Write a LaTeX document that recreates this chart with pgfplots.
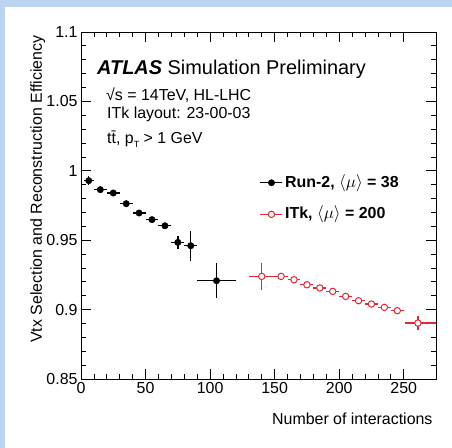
\documentclass[border=0pt]{standalone}
\usepackage{pgfplots}
\pgfplotsset{compat=1.18}
\usepackage{fontspec}
\setmainfont{Liberation Sans}
\definecolor{framebg}{RGB}{189,212,240}
\definecolor{rootred}{RGB}{228,38,52}

\begin{document}
\begin{tikzpicture}[x=1bp,y=1bp]
% light blue frame round the figure
\fill[framebg] (0,0) rectangle (452,448);
\fill[white] (5,0) rectangle (452,441);

\begin{axis}[
    at={(81bp,69bp)}, anchor=south west,
    width=355bp, height=347bp, scale only axis,
    xmin=0, xmax=275,
    ymin=0.85, ymax=1.1,
    xtick={0,50,100,150,200,250},
    ytick={0.85,0.9,0.95,1,1.05,1.1},
    minor x tick num=4,
    minor y tick num=4,
    tick align=inside,
    major tick length=10bp,
    minor tick length=5bp,
    axis line style={line width=0.8bp},
    every tick/.style={line width=0.8bp, black},
    /pgf/number format/assume math mode=true,
    ticklabel style={font=\fontsize{16}{19}\selectfont},
    xlabel={Number of interactions},
    xlabel style={at={(axis description cs:1,0)}, anchor=base east,
        yshift=-45.7bp, font=\fontsize{16}{19}\selectfont},
    ylabel={Vtx Selection and Reconstruction Efficiency},
    ylabel style={at={(axis description cs:-0.11,1)}, anchor=base east,
        font=\fontsize{16}{19}\selectfont},
    legend cell align=left,
    legend style={at={(axis cs:138.5,0.980)}, anchor=west,
        draw=none, fill=none, inner sep=0pt, outer sep=0pt,
        font=\bfseries\fontsize{16}{19}\selectfont,
        row sep=16.6bp, column sep=2bp,
        nodes={inner sep=0pt, text height=12bp, text depth=3bp}},
]

% Run-2, <mu> = 38
\addplot[black, only marks, mark=*, mark size=3.2bp,
    mark options={line width=0.5bp},
    error bars/.cd, x dir=both, x explicit, y dir=both, y explicit,
    error mark=none, error bar style={line width=1.4bp, black},
    /pgfplots/legend image code/.code={
        \draw[black, line width=1.4bp] (0bp,0bp) -- (22bp,0bp);
        \fill[black] (11bp,0bp) circle (3.2bp);}]
coordinates {
    (6,0.9929)   +- (4,0.003)
    (15,0.9864)  +- (5,0.001)
    (25,0.9840)  +- (5,0.001)
    (35,0.9763)  +- (5,0.0015)
    (45,0.9696)  +- (5,0.0015)
    (55,0.9648)  +- (5,0.0015)
    (65,0.9604)  +- (5,0.0015)
    (75,0.9484)  +- (5,0.0046)
    (85,0.9460)  +- (5,0.0108)
    (105,0.9208) +- (15,0.0126)
};
\addlegendentry{Run-2, $\langle\mu\rangle$ = 38}

% ITk, <mu> = 200
\addplot[rootred, only marks, mark=*, mark size=3.2bp,
    mark options={fill=white, draw=rootred, line width=1bp},
    error bars/.cd, x dir=both, x explicit, y dir=both, y explicit,
    error mark=none, error bar style={line width=1.2bp, rootred},
    /pgfplots/legend image code/.code={
        \draw[rootred, line width=1.2bp] (0bp,0bp) -- (22bp,0bp);
        \filldraw[draw=rootred, fill=white, line width=1bp] (11bp,0bp) circle (3.2bp);}]
coordinates {
    (140,0.9239) +- (10,0.0096)
    (155,0.9239) +- (5,0.0012)
    (165,0.9215) +- (5,0.0012)
    (175,0.9179) +- (5,0.001)
    (185,0.9156) +- (5,0.001)
    (195,0.9131) +- (5,0.001)
    (205,0.9095) +- (5,0.001)
    (215,0.9064) +- (5,0.001)
    (225,0.9040) +- (5,0.001)
    (235,0.9016) +- (5,0.001)
    (245,0.8992) +- (5,0.001)
    (261,0.8903) += (16,0.0048) -= (10,0.0048)
};
\addlegendentry{ITk, $\langle\mu\rangle$ = 200}
\end{axis}

% ATLAS label block
\node[anchor=base west, inner sep=0pt, font=\fontsize{20}{24}\selectfont]
    at (97,373) {\textbf{\textit{ATLAS}} Simulation Preliminary};
\node[anchor=base west, inner sep=0pt, font=\fontsize{16}{19}\selectfont]
    at (106,347.3) {√s = 14TeV, HL-LHC};
\node[anchor=base west, inner sep=0pt, font=\fontsize{16}{19}\selectfont]
    at (107,329.7) {ITk layout: 23-00-03};
\node[anchor=base west, inner sep=0pt, font=\fontsize{16}{19}\selectfont]
    at (107,304.7) {t\={t}, p\raisebox{-0.5ex}{\fontsize{9}{10}\selectfont T} > 1 GeV};

\pgfresetboundingbox
\useasboundingbox (0,0) rectangle (452,448);
\end{tikzpicture}
\end{document}
